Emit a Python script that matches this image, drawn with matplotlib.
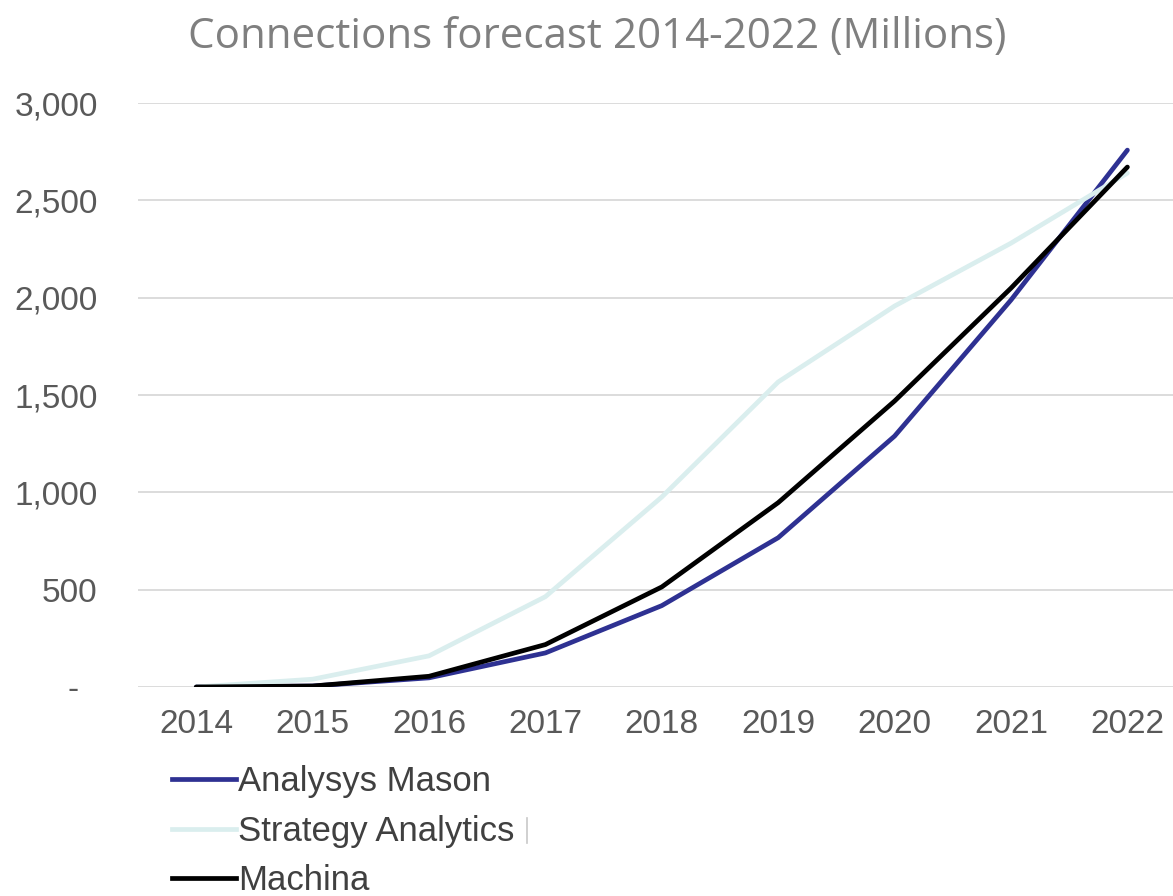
import matplotlib.pyplot as plt
from matplotlib.ticker import FuncFormatter
from matplotlib.lines import Line2D

# Forecast values (millions of connections)
years = ["2014", "2015", "2016", "2017", "2018", "2019", "2020", "2021", "2022"]
analysys_mason = [0, 5, 47, 175, 418, 767, 1289, 1988, 2758]
strategy_analytics = [0, 40, 160, 464, 976, 1567, 1957, 2280, 2640]
machina = [0, 5, 55, 218, 514, 947, 1469, 2049, 2671]

series_names = ["Analysys Mason", "Strategy Analytics", "Machina"]
series_colors = ["#2e3192", "#daeeee", "#000000"]

fig = plt.figure(figsize=(11.73, 8.96), dpi=100)
ax = fig.add_axes([138 / 1173, 1 - 687 / 896, 1047.6 / 1173, (687 - 103) / 896])

x = list(range(len(years)))
for vals, name, col in zip([analysys_mason, strategy_analytics, machina], series_names, series_colors):
    ax.plot(x, vals, color=col, linewidth=3.4, label=name, solid_capstyle="round")

ax.set_xlim(-0.5, 8.5)
ax.set_ylim(0, 3000)
ax.set_yticks([0, 500, 1000, 1500, 2000, 2500, 3000])
ax.yaxis.set_major_formatter(FuncFormatter(lambda v, p: "-  " if v == 0 else f"{v:,.0f}"))
ax.set_xticks(x)
ax.set_xticklabels(years)

ax.grid(axis="y", color="#d9d9d9", linewidth=1.3)
ax.set_axisbelow(True)
for s in ax.spines.values():
    s.set_visible(False)
ax.tick_params(length=0, labelsize=24, colors="#595959", labelfontfamily="Liberation Sans")
ax.tick_params(axis="y", pad=29)
ax.tick_params(axis="x", pad=16)

fig.text(597 / 1173, 1 - 37 / 896, "Connections forecast 2014-2022 (Millions)",
         ha="center", va="center", fontsize=30.3, color="#7f7f7f", family="Open Sans")

handles = [Line2D([], [], color=c, linewidth=3.4) for c in series_colors]
leg = fig.legend(handles, series_names, loc="upper left",
                 bbox_to_anchor=(172 / 1173, 1 - 765 / 896),
                 frameon=False, handlelength=1.85, handletextpad=0.05,
                 labelspacing=0.48, borderpad=0, borderaxespad=0,
                 prop={"family": "Liberation Sans", "size": 25})
for t in leg.get_texts():
    t.set_color("#404040")

# small separator mark after the second legend entry
fig.add_artist(Line2D([527 / 1173, 527 / 1173], [1 - 818 / 896, 1 - 843 / 896],
                      color="#c8c8c8", linewidth=1.2))

fig.savefig("out.png", dpi=100)
